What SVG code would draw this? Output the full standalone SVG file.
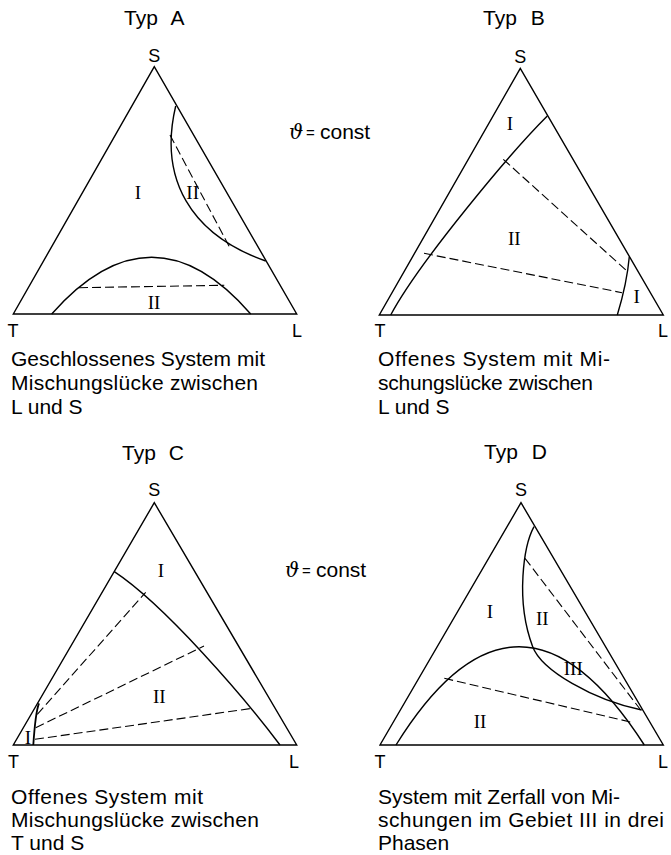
<svg xmlns="http://www.w3.org/2000/svg" width="671" height="855" viewBox="0 0 671 855">
<style>
.tri{fill:none;stroke:#000;stroke-width:1.4;stroke-linejoin:miter}
.cv{fill:none;stroke:#000;stroke-width:1.4}
.ds{fill:none;stroke:#000;stroke-width:1.1;stroke-dasharray:9 4}
.t{font-family:"Liberation Sans",Arial,sans-serif;fill:#000}
.ttl{font-size:21px}
.v{font-size:18px;text-anchor:middle}
.cap{font-size:21px}
.eq{font-size:15px}
.r{font-family:"Liberation Serif","Times New Roman",serif;font-size:19px;text-anchor:middle;fill:#000}
.th{font-family:"DejaVu Serif",serif;font-style:italic;font-size:20px;fill:#000}
</style>
<rect width="671" height="855" fill="#fff"/>

<g id="typA">
<text class="t ttl" x="124" y="25">Typ <tspan dx="8">A</tspan></text>
<text class="t v" x="154.3" y="62">S</text>
<text class="t v" x="13" y="337">T</text>
<text class="t v" x="297" y="337">L</text>
<path class="tri" d="M154.3,66.7 L13.3,314 L296.7,314 Z"/>
<path class="cv" d="M175.7,106 C158.5,178.8 190.5,234.6 265.7,261"/>
<path class="cv" d="M51.7,314 Q152,200.6 250.7,314"/>
<text class="r" x="138" y="199">I</text>
<text class="r" x="192.7" y="199">II</text>
<text class="r" x="154" y="309">II</text>
<text class="t cap" x="11" y="366" textLength="254" lengthAdjust="spacing">Geschlossenes System mit</text>
<text class="t cap" x="11" y="390" textLength="247" lengthAdjust="spacing">Mischungslücke zwischen</text>
<text class="t cap" x="11" y="414">L und S</text>
</g>

<g id="typB">
<text class="t ttl" x="483" y="25">Typ <tspan dx="8">B</tspan></text>
<text class="t v" x="520.3" y="63">S</text>
<text class="t v" x="380" y="337">T</text>
<text class="t v" x="663" y="337">L</text>
<path class="tri" d="M520.3,68.3 L379.3,315 L663.3,315 Z"/>
<path class="cv" d="M547.3,116 C512,151 419,262 390.7,315"/>
<path class="cv" d="M629.3,256.7 Q627,283 617.3,315"/>
<text class="r" x="510" y="130">I</text>
<text class="r" x="514.3" y="245">II</text>
<text class="r" x="636.7" y="303">I</text>
<text class="t cap" x="378" y="366" textLength="232" lengthAdjust="spacing">Offenes System mit Mi-</text>
<text class="t cap" x="378" y="390" textLength="215" lengthAdjust="spacing">schungslücke zwischen</text>
<text class="t cap" x="378" y="414">L und S</text>
</g>

<g id="typC">
<text class="t ttl" x="122" y="460">Typ <tspan dx="7">C</tspan></text>
<text class="t v" x="154.3" y="496">S</text>
<text class="t v" x="13.5" y="768">T</text>
<text class="t v" x="294" y="768">L</text>
<path class="tri" d="M154.3,502.7 L13.3,745 L296.7,745 Z"/>
<path class="cv" d="M114.3,571.7 C164.4,604.7 244,697 280,745"/>
<path class="cv" style="stroke-width:1.8" d="M39,703.3 Q35.5,712 33.3,745"/>
<text class="r" x="161" y="577">I</text>
<text class="r" x="159.3" y="703">II</text>
<text class="r" x="28" y="744">I</text>
<text class="t cap" x="11" y="804" textLength="192" lengthAdjust="spacing">Offenes System mit</text>
<text class="t cap" x="11" y="827" textLength="248" lengthAdjust="spacing">Mischungslücke zwischen</text>
<text class="t cap" x="11" y="850">T und S</text>
</g>

<g id="typD">
<text class="t ttl" x="484" y="459">Typ <tspan dx="8">D</tspan></text>
<text class="t v" x="521" y="496">S</text>
<text class="t v" x="380" y="768">T</text>
<text class="t v" x="663" y="768">L</text>
<path class="tri" d="M521,502.7 L380,745 L663.3,745 Z"/>
<path class="cv" d="M534,526.7 C524,545 515,600 532.7,646.7 C541.5,670.2 592.7,700 641.7,710"/>
<path class="cv" d="M396,745 Q518,548.4 644.3,745"/>
<text class="r" x="490" y="618">I</text>
<text class="r" x="542.3" y="625">II</text>
<text class="r" x="573.3" y="675">III</text>
<text class="r" x="480" y="728">II</text>
<text class="t cap" x="378" y="804" textLength="242" lengthAdjust="spacing">System mit Zerfall von Mi-</text>
<text class="t cap" x="378" y="827" textLength="286" lengthAdjust="spacing">schungen im Gebiet III in drei</text>
<text class="t cap" x="378" y="850">Phasen</text>
</g>

<g id="theta1">
<text class="th" x="289" y="139">ϑ</text>
<text class="t eq" x="306" y="138">=</text>
<text class="t cap" x="320" y="139">const</text>
</g>
<g id="theta2">
<text class="th" x="285" y="577">ϑ</text>
<text class="t eq" x="302" y="576">=</text>
<text class="t cap" x="316" y="577">const</text>
</g>

<g id="connectors">
<path class="ds" d="M170,135 L230,248"/>
<path class="ds" d="M79,287.7 L224.3,285.3"/>
<path class="ds" d="M503.3,159.3 L627.7,271.7"/>
<path class="ds" d="M424,253.3 L622,292.7"/>
<path class="ds" d="M37.3,714.3 L145.7,592.3"/>
<path class="ds" d="M35.7,727.7 L204,646"/>
<path class="ds" d="M35,739.3 L252.3,708.3"/>
<path class="ds" d="M525,558.3 L640.7,710"/>
<path class="ds" d="M444.3,678.3 L631.7,722.3"/>
</g>
</svg>
